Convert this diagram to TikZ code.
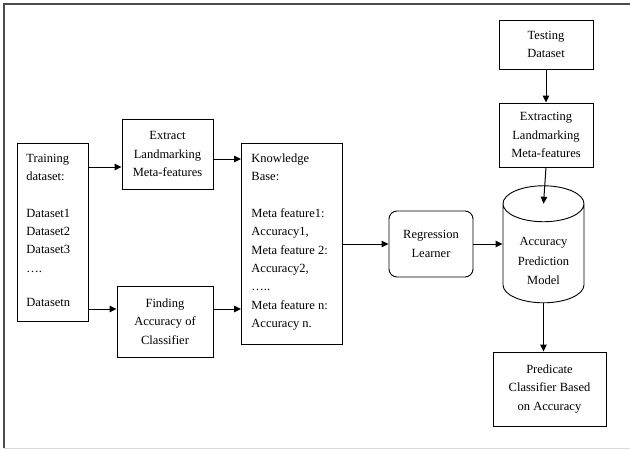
\documentclass[tikz,border=0pt]{standalone}
\usepackage{fontspec}
\setmainfont{Liberation Serif}
\usetikzlibrary{arrows.meta,positioning,calc,shapes.geometric}

\begin{document}
\begin{tikzpicture}[
  x=1pt, y=-1pt,
  box/.style={draw, line width=0.9pt, align=center, inner sep=0pt,
              font=\fontsize{12.5}{18.5}\selectfont},
  listbox/.style={draw, line width=0.9pt, inner sep=0pt, anchor=north west,
                  font=\fontsize{12.5}{18.3}\selectfont},
  dbase/.style={draw, line width=0.9pt, cylinder, shape border rotate=90, aspect=0.7,
                align=center, inner sep=0pt, font=\fontsize{12.5}{19.5}\selectfont},
  arr/.style={-{Triangle[length=7pt,width=6.5pt]}, line width=1pt},
]
  \useasboundingbox (0,0) rectangle (630,450);

  %% frame
  \draw[black!70, line width=1.3pt] (4,448) -- (4,4) -- (630,4);
  \draw[black!15, line width=1pt] (4,448.5) -- (630,448.5);

  %% training side
  \node[listbox] (train) at (17,143) {%
    \parbox[t][178pt][t]{71pt}{\vspace*{10.5pt}\leftskip=9pt
      Training\\ dataset:\\[18.3pt]
      Dataset1\\ Dataset2\\ Dataset3\\ ….\\[16pt]
      Datasetn}};
  \node[box, minimum width=91pt, minimum height=70pt] (ext) at (167.5,154)
    {Extract\\ Landmarking\\ Meta-features};
  \node[box, minimum width=96pt, minimum height=71pt] (find) at (165,321.5)
    {Finding\\ Accuracy of\\ Classifier};
  \node[listbox] (kb) at (241,143) {%
    \parbox[t][201pt][t]{101pt}{\vspace*{10.5pt}\leftskip=10pt
      Knowledge\\ Base:\\[18.3pt]
      Meta feature1:\\ Accuracy1,\\ Meta feature 2:\\ Accuracy2,\\ …..\\
      Meta feature n:\\ Accuracy n.}};

  %% learning and prediction
  \node[box, rounded corners=8pt, minimum width=84pt, minimum height=66pt] (reg) at (431,244)
    {Regression\\ Learner};
  \node[dbase, minimum width=81pt, minimum height=103pt] (apm) at (543.5,253.5)
    {\\[4pt]Accuracy\\ Prediction\\ Model};
  \node[box, minimum width=94pt, minimum height=49pt] (test) at (546,44.5)
    {Testing\\ Dataset};
  \node[box, minimum width=94pt, minimum height=64pt] (exg) at (546,135)
    {Extracting\\ Landmarking\\ Meta-features};
  \node[box, minimum width=113pt, minimum height=74pt] (pred) at (549.5,389)
    {Predicate\\ Classifier Based\\ on Accuracy};

  %% connectors
  \coordinate (extin) at ([yshift=-13pt]ext.west);
  \coordinate (extout) at ([yshift=-5pt]ext.east);
  \coordinate (findin) at ([yshift=12.5pt]find.west);
  \coordinate (apmtop) at ($(apm.before top)!0.5!(apm.after top)$);

  \draw[arr] (extin -| train.east) -- (extin);
  \draw[arr] (findin -| train.east) -- (findin);
  \draw[arr] (extout) -- (extout -| kb.west);
  \draw[arr] (findin -| find.east) -- (findin -| kb.west);
  \draw[arr] (kb.east |- reg.west) -- (reg.west);
  \draw[arr] (reg.east) -- (apm.west |- reg.east);
  \draw[arr] (test.south) -- (exg.north);
  \draw[arr] (exg.south) -- (apmtop);
  \draw[arr] (apm.south) -- (apm.south |- pred.north);
\end{tikzpicture}
\end{document}
